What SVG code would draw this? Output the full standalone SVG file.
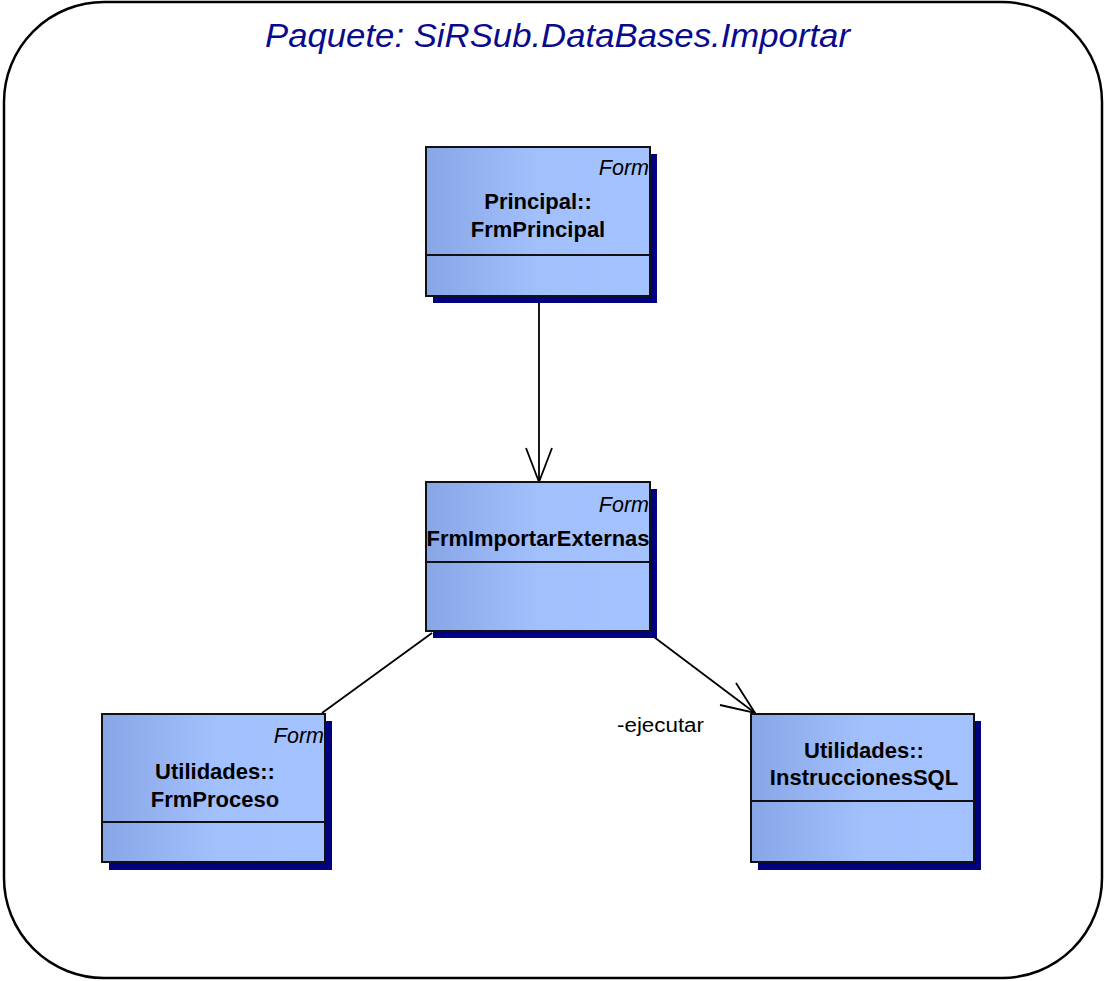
<svg xmlns="http://www.w3.org/2000/svg" width="1106" height="981" viewBox="0 0 1106 981">
<defs>
<linearGradient id="g" x1="0" y1="0" x2="1" y2="0">
<stop offset="0" stop-color="#88a6e6"/>
<stop offset="0.5" stop-color="#a2c0fc"/>
<stop offset="1" stop-color="#a4c2ff"/>
</linearGradient>
</defs>
<style>
.pkg{fill:#fff;stroke:#000;stroke-width:2.5}
.title{font-family:"Liberation Sans",Arial,sans-serif;font-style:italic;font-size:33px;fill:#0a0a8c}
.sh{fill:#000080}
.box{fill:url(#g);stroke:#111;stroke-width:2}
.div{stroke:#111;stroke-width:2}
.st{font-family:"Liberation Sans",Arial,sans-serif;font-style:italic;font-size:21.5px;fill:#000;text-anchor:end}
.nm{font-family:"Liberation Sans",Arial,sans-serif;font-weight:bold;font-size:22px;fill:#000;text-anchor:middle}
.lbl{font-family:"Liberation Sans",Arial,sans-serif;font-size:20px;fill:#000}
.ln{stroke:#000;stroke-width:1.8;fill:none}
</style>
<rect class="pkg" x="4" y="2" width="1098" height="976" rx="100" ry="100"/>
<text class="title" x="265" y="47" textLength="585" lengthAdjust="spacingAndGlyphs">Paquete: SiRSub.DataBases.Importar</text>

<g id="connectors">
<line class="ln" x1="539" y1="296" x2="539" y2="482"/>
<polyline class="ln" points="526,448 539,482 552,448"/>
<line class="ln" x1="432" y1="633" x2="322" y2="713"/>
<line class="ln" x1="650" y1="634" x2="755" y2="713"/>
<polyline class="ln" points="736,683 755,713 720,705"/>
<text class="lbl" x="617" y="732" textLength="87" lengthAdjust="spacingAndGlyphs">-ejecutar</text>
</g>

<g id="FrmPrincipal">
<rect class="sh" x="433" y="154" width="224" height="149"/>
<rect class="box" x="426" y="147" width="224" height="149"/>
<line class="div" x1="426" y1="255" x2="650" y2="255"/>
<text class="st" x="649" y="175">Form</text>
<text class="nm" x="538" y="209">Principal::</text>
<text class="nm" x="538" y="237">FrmPrincipal</text>
</g>

<g id="FrmImportarExternas">
<rect class="sh" x="433" y="489" width="224" height="149"/>
<rect class="box" x="426" y="482" width="224" height="149"/>
<line class="div" x1="426" y1="562" x2="650" y2="562"/>
<text class="st" x="649" y="512">Form</text>
<text class="nm" x="538" y="546" textLength="223" lengthAdjust="spacingAndGlyphs">FrmImportarExternas</text>
</g>

<g id="FrmProceso">
<rect class="sh" x="109" y="721" width="223" height="149"/>
<rect class="box" x="102" y="714" width="223" height="148"/>
<line class="div" x1="102" y1="822" x2="325" y2="822"/>
<text class="st" x="324" y="743">Form</text>
<text class="nm" x="215" y="779">Utilidades::</text>
<text class="nm" x="215" y="807">FrmProceso</text>
</g>

<g id="InstruccionesSQL">
<rect class="sh" x="758" y="721" width="223" height="149"/>
<rect class="box" x="751" y="714" width="223" height="148"/>
<line class="div" x1="751" y1="801" x2="974" y2="801"/>
<text class="nm" x="864" y="758">Utilidades::</text>
<text class="nm" x="864" y="785">InstruccionesSQL</text>
</g>
</svg>
